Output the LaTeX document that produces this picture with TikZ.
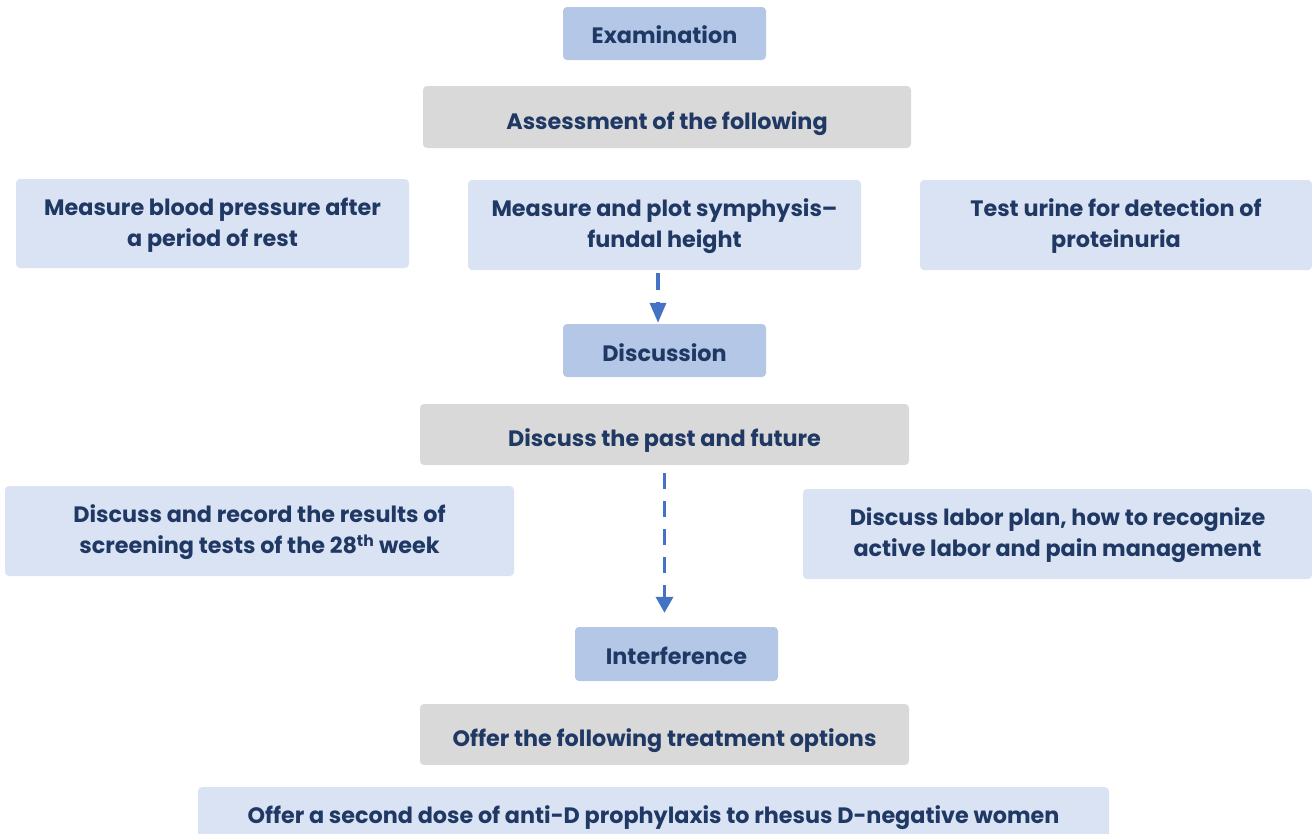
\documentclass[tikz,border=0pt]{standalone}
\usepackage{fontspec}
\setmainfont{Poppins}
\usetikzlibrary{arrows.meta}
\definecolor{headfill}{HTML}{B4C7E7}
\definecolor{greyfill}{HTML}{D9D9D9}
\definecolor{itemfill}{HTML}{DAE3F3}
\definecolor{navy}{HTML}{1F3864}
\definecolor{arrowblue}{HTML}{4472C4}
\tikzset{
  box/.style={rounded corners=4pt, inner sep=0pt},
  head/.style={box, fill=headfill},
  group/.style={box, fill=greyfill},
  item/.style={box, fill=itemfill},
  txt/.style={inner sep=0pt, align=center, text=navy,
    font=\fontsize{22.3}{31}\selectfont\bfseries},
  flow/.style={draw=arrowblue, line width=3.5pt}
}
\begin{document}
\begin{tikzpicture}[x=1pt,y=-1pt]
\useasboundingbox (0,0) rectangle (1312,833);
% examination
\node[head, minimum width=203pt, minimum height=53pt] (exam) at (664.5,33.5) {};
\node[txt] (examtext) at (664.5,35) {Examination};
\node[group, minimum width=488pt, minimum height=62pt] (assess) at (667,117) {};
\node[txt] (assesstext) at (667,124) {Assessment of the following};
\node[item, minimum width=393pt, minimum height=89pt] (bp) at (212.5,223.5) {};
\node[txt] (bptext) at (212.5,225.5) {Measure blood pressure after\\a period of rest};
\node[item, minimum width=393pt, minimum height=90pt] (sfh) at (664.5,225) {};
\node[txt] (sfhtext) at (664.5,226.5) {Measure and plot symphysis–\\fundal height};
\node[item, minimum width=392pt, minimum height=90pt] (urine) at (1116,225) {};
\node[txt] (urinetext) at (1116,226.5) {Test urine for detection of\\proteinuria};
% discussion
\node[head, minimum width=203pt, minimum height=53pt] (disc) at (664.5,350.5) {};
\node[txt] (disctext) at (664.5,353) {Discussion};
\node[group, minimum width=489pt, minimum height=61pt] (past) at (664.5,434.5) {};
\node[txt] (pasttext) at (664.5,441) {Discuss the past and future};
\node[item, minimum width=509pt, minimum height=90pt] (record) at (259.5,531) {};
\node[txt] (recordtext) at (259.5,532.5) {Discuss and record the results of\\screening tests of the 28\textsuperscript{th} week};
\node[item, minimum width=509pt, minimum height=90pt] (labor) at (1057.5,534) {};
\node[txt] (labortext) at (1057.5,535.5) {Discuss labor plan, how to recognize\\active labor and pain management};
% interference
\node[head, minimum width=203pt, minimum height=54pt] (inter) at (676.5,654) {};
\node[txt] (intertext) at (676.5,656) {Interference};
\node[group, minimum width=489pt, minimum height=61pt] (offer) at (664.5,734.5) {};
\node[txt] (offertext) at (664.5,741) {Offer the following treatment options};
\node[item, minimum width=911pt, minimum height=60pt, anchor=north] (antid) at (653.5,787) {};
\node[txt, anchor=base] (antidtext) at (653.5,823) {Offer a second dose of anti-D prophylaxis to rhesus D-negative women};
% connectors
\draw[flow, dash pattern=on 17pt off 12pt, -{Triangle[length=20pt,width=16pt]},
  shorten <=3pt, shorten >=1pt] ([xshift=-6.5pt]sfh.south) -- ([xshift=-6.5pt]disc.north);
\draw[flow, dash pattern=on 16pt off 12pt, -{Triangle[length=16pt,width=17pt]},
  shorten <=8pt, shorten >=14pt] (past.south) -- (past.south |- inter.north);
\end{tikzpicture}
\end{document}
